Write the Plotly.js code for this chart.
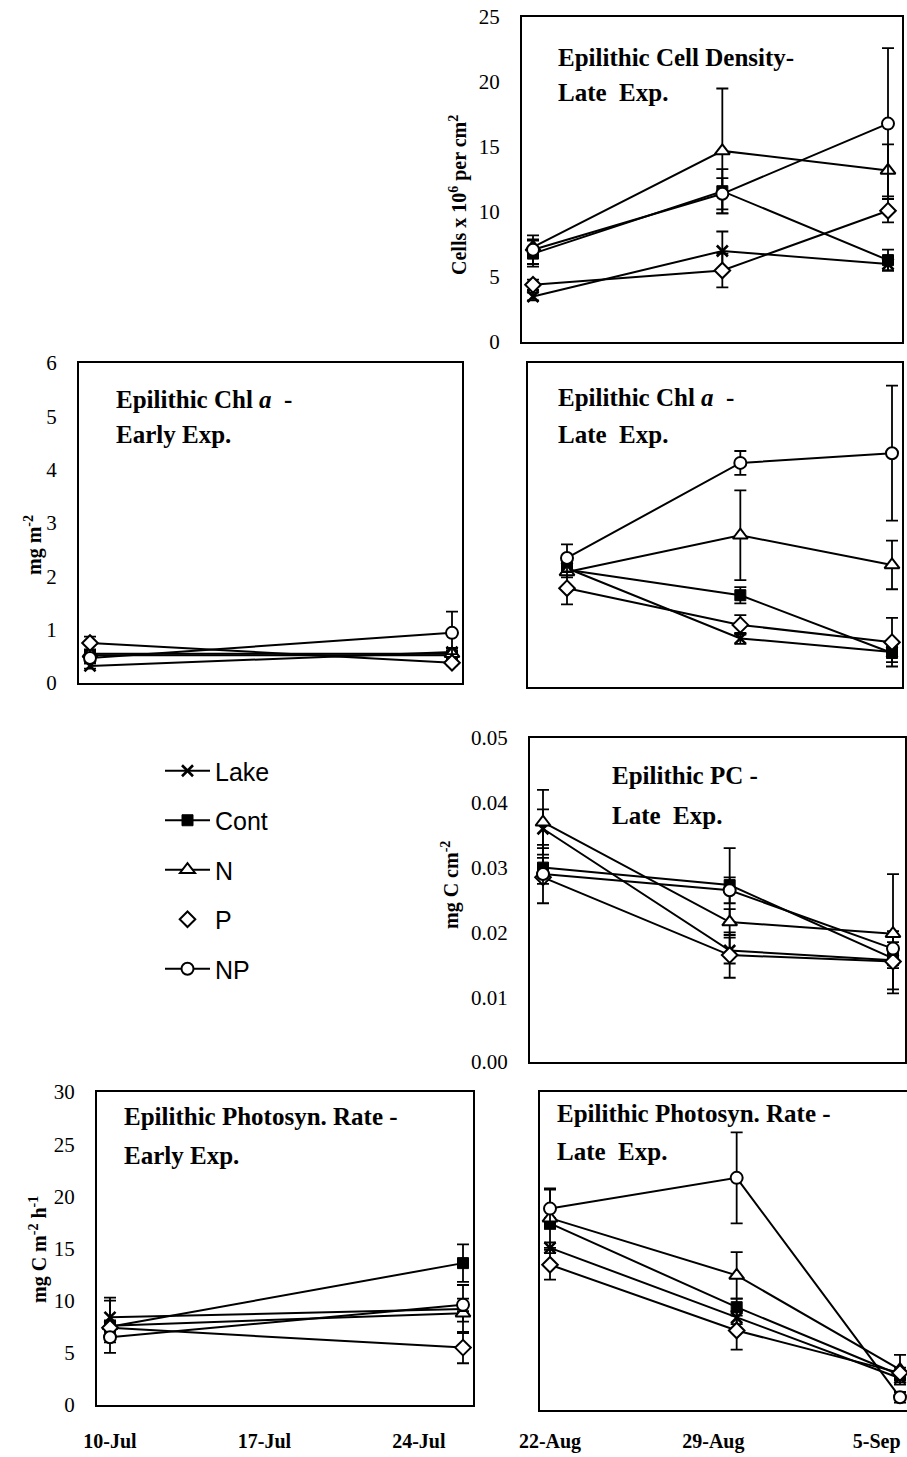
<!DOCTYPE html>
<html>
<head>
<meta charset="utf-8">
<script src="https://cdn.plot.ly/plotly-3.0.1.min.js"></script>
<style>html,body{margin:0;padding:0;background:#fff;}#chart{width:907px;height:1457px;}</style>
</head>
<body>
<div id="chart"></div>
<script>
// ---------------- DATA ----------------
const seriesNames = ['Lake', 'Cont', 'N', 'P', 'NP'];
const lateDates = ['2000-08-22', '2000-08-30', '2000-09-06'];
const earlyDates = ['2000-07-10', '2000-07-26'];
const earlyTickDates = ['2000-07-10', '2000-07-17', '2000-07-24'];
const earlyTickLabels = ['10-Jul', '17-Jul', '24-Jul'];
const lateTickDates = ['2000-08-22', '2000-08-29', '2000-09-05'];
const lateTickLabels = ['22-Aug', '29-Aug', '5-Sep'];
const pcTickVals = [0, 0.01, 0.02, 0.03, 0.04, 0.05];
const pcTickLabels = ['0.00', '0.01', '0.02', '0.03', '0.04', '0.05'];

// Epilithic Cell Density - Late Exp. (cells x 10^6 per cm2); order Lake, Cont, N, P, NP
const cellVals = [[3.5, 7.0, 6.0], [6.8, 11.6, 6.3], [7.3, 14.7, 13.2], [4.4, 5.5, 10.1], [7.1, 11.4, 16.8]];
const cellErr  = [[0.3, 1.5, 0.5], [1.0, 1.7, 0.8], [0.6, 4.8, 2.0], [0.4, 1.3, 0.9], [1.1, 1.2, 5.8]];
// Epilithic Chl a - Early Exp. (mg m-2)
const chlEarlyVals = [[0.32, 0.58], [0.52, 0.52], [0.55, 0.55], [0.75, 0.38], [0.47, 0.94]];
const chlEarlyErr  = [[0.05, 0.08], [0.05, 0.05], [0.05, 0.1], [0.12, 0.05], [0.1, 0.4]];
// Epilithic Chl a - Late Exp. (mg m-2)
const chlLateVals = [[2.2, 0.9, 0.65], [2.17, 1.7, 0.63], [2.13, 2.81, 2.26], [1.83, 1.15, 0.83], [2.39, 4.15, 4.33]];
const chlLateErr  = [[0.1, 0.1, 0.1], [0.1, 0.15, 0.17], [0.1, 0.83, 0.45], [0.3, 0.18, 0.45], [0.25, 0.22, 1.25]];
// Epilithic PC - Late Exp. (mg C cm-2)
const pcVals = [[0.036, 0.0172, 0.0157], [0.030, 0.0273, 0.016], [0.037, 0.0216, 0.0198], [0.0285, 0.0165, 0.0155], [0.029, 0.0265, 0.0175]];
const pcErr  = [[0.003, 0.002, 0.0045], [0.0015, 0.0057, 0.001], [0.005, 0.002, 0.0092], [0.001, 0.0035, 0.001], [0.0045, 0.002, 0.001]];
// Epilithic Photosyn. Rate - Early Exp. (mg C m-2 h-1)
const photoEarlyVals = [[8.4, 9.2], [7.5, 13.6], [7.6, 8.8], [7.4, 5.5], [6.5, 9.6]];
const photoEarlyErr  = [[1.9, 2.3], [2.5, 1.8], [0.5, 0.8], [0.6, 1.5], [0.5, 0.6]];
// Epilithic Photosyn. Rate - Late Exp. (mg C m-2 h-1)
const photoLateVals = [[15.3, 8.7, 3.0], [17.6, 9.7, 3.3], [18.1, 12.7, 3.8], [13.7, 7.5, 3.5], [19.0, 21.9, 1.2]];
const photoLateErr  = [[0.5, 0.6, 0.4], [0.5, 0.8, 0.5], [2.8, 2.2, 1.4], [1.4, 1.8, 0.5], [1.8, 4.3, 0.5]];

// ---------------- LAYOUT HELPERS ----------------
const W = 907, H = 1457;
const fx = p => p / W;
const fy = p => 1 - p / H;
const DAY = 86400000;
function dms(s) { const a = s.split('-').map(Number); return Date.UTC(a[0], a[1] - 1, a[2]); }
function dateRange(L, R, pA, dA, pB, dB) {
  const a = dms(dA), b = dms(dB);
  const ppd = (pB - pA) / ((b - a) / DAY);
  return [a - (pA - L) / ppd * DAY, a + (R - pA) / ppd * DAY];
}

const markerStyles = [
  {symbol: 'x-thin', size: 11, color: 'black', line: {color: 'black', width: 2.6}},
  {symbol: 'square', size: 11, color: 'black', line: {color: 'black', width: 1}},
  {symbol: 'triangle-up', size: 13, color: 'white', line: {color: 'black', width: 2}},
  {symbol: 'diamond', size: 12, color: 'white', line: {color: 'black', width: 2}},
  {symbol: 'circle', size: 12, color: 'white', line: {color: 'black', width: 2}}
];

const panels = [
  {vals: cellVals, err: cellErr, dates: lateDates, L: 522, R: 902, T: 17, B: 342, yr: [0, 25], dtick: 5, showY: true,
   map: [533, lateDates[0], 888, lateDates[2]]},
  {vals: chlEarlyVals, err: chlEarlyErr, dates: earlyDates, L: 79, R: 462, T: 363, B: 683, yr: [0, 6], dtick: 1, showY: true,
   map: [90, earlyDates[0], 452, earlyDates[1]]},
  {vals: chlLateVals, err: chlLateErr, dates: lateDates, L: 528, R: 902, T: 363, B: 687, yr: [0, 6], dtick: 1, showY: false,
   map: [567, lateDates[0], 892, lateDates[2]]},
  {vals: pcVals, err: pcErr, dates: lateDates, L: 530, R: 905, T: 738, B: 1062, yr: [0, 0.05], showY: true, pc: true,
   map: [543, lateDates[0], 893, lateDates[2]]},
  {vals: photoEarlyVals, err: photoEarlyErr, dates: earlyDates, L: 97, R: 473, T: 1092, B: 1405, yr: [0, 30], dtick: 5, showY: true,
   map: [110, earlyDates[0], 463, earlyDates[1]], ticks: [earlyTickDates, earlyTickLabels], standoff: 17},
  {vals: photoLateVals, err: photoLateErr, dates: lateDates, L: 540, R: 907, T: 1092, B: 1410, yr: [0, 30], dtick: 5, showY: false,
   map: [550, lateDates[0], 900, lateDates[2]], ticks: [lateTickDates, lateTickLabels], standoff: 12}
];

const layout = {
  width: W, height: H,
  margin: {l: 0, r: 0, t: 0, b: 0},
  paper_bgcolor: 'white', plot_bgcolor: 'white',
  showlegend: true,
  legend: {
    x: fx(160), y: fy(748), xanchor: 'left', yanchor: 'top',
    font: {family: 'Liberation Sans, Arial, sans-serif', size: 25, color: 'black'},
    bgcolor: 'rgba(0,0,0,0)', tracegroupgap: 14, traceorder: 'grouped', itemwidth: 45
  },
  annotations: []
};

const traces = [];
panels.forEach((p, i) => {
  const n = i + 1;
  const xk = n === 1 ? 'xaxis' : 'xaxis' + n;
  const yk = n === 1 ? 'yaxis' : 'yaxis' + n;
  const xr = n === 1 ? 'x' : 'x' + n;
  const yr = n === 1 ? 'y' : 'y' + n;
  const m = p.map;
  layout[xk] = {
    type: 'date', domain: [fx(p.L), fx(p.R)], range: dateRange(p.L, p.R, m[0], m[1], m[2], m[3]),
    anchor: yr, showline: true, mirror: true, linecolor: 'black', linewidth: 2,
    showgrid: false, zeroline: false, ticks: '', fixedrange: true,
    showticklabels: !!p.ticks,
    tickmode: p.ticks ? 'array' : 'auto',
    tickvals: p.ticks ? p.ticks[0] : undefined,
    ticktext: p.ticks ? p.ticks[1] : undefined,
    ticklabelstandoff: p.standoff || 0,
    tickfont: {family: 'Liberation Serif, Times New Roman, serif', size: 20, color: 'black', weight: 'bold'}
  };
  const ya = {
    domain: [fy(p.B), fy(p.T)], range: p.yr, anchor: xr,
    showline: true, mirror: true, linecolor: 'black', linewidth: 2,
    showgrid: false, zeroline: false, ticks: '', fixedrange: true,
    showticklabels: p.showY, ticklabelstandoff: 16,
    tickfont: {family: 'Liberation Serif, Times New Roman, serif', size: 21, color: 'black'}
  };
  if (p.pc) { ya.tickmode = 'array'; ya.tickvals = pcTickVals; ya.ticktext = pcTickLabels; }
  else { ya.dtick = p.dtick; ya.tick0 = 0; }
  layout[yk] = ya;

  seriesNames.forEach((name, s) => {
    traces.push({
      type: 'scatter', mode: 'lines+markers', name: name, legendgroup: name,
      showlegend: (n === 1 && name !== 'P'),
      x: p.dates, y: p.vals[s], xaxis: xr, yaxis: yr,
      line: {color: 'black', width: 2},
      marker: markerStyles[s],
      error_y: {type: 'data', array: p.err[s], visible: true, color: 'black', thickness: 1.8, width: 6},
      cliponaxis: false, hoverinfo: 'skip'
    });
    if (n === 1 && name === 'P') {
      // legend entry for P shows the marker only, as in the original key
      traces.push({type: 'scatter', mode: 'markers', name: name, legendgroup: name, showlegend: true,
        x: [null], y: [null], xaxis: xr, yaxis: yr, marker: markerStyles[s], hoverinfo: 'skip'});
    }
  });
});

// panel titles
const titleFont = {family: 'Liberation Serif, Times New Roman, serif', size: 25, color: 'black'};
const titles = [
  ['<b>Epilithic Cell Density-</b>', 556, 58], ['<b>Late  Exp.</b>', 556, 92],
  ['<b>Epilithic Chl <i>a</i>  -</b>', 114, 400], ['<b>Early Exp.</b>', 114, 434],
  ['<b>Epilithic Chl <i>a</i>  -</b>', 556, 397], ['<b>Late  Exp.</b>', 556, 435],
  ['<b>Epilithic PC -</b>', 610, 775], ['<b>Late  Exp.</b>', 610, 815],
  ['<b>Epilithic Photosyn. Rate -</b>', 122, 1116], ['<b>Early Exp.</b>', 122, 1155],
  ['<b>Epilithic Photosyn. Rate -</b>', 555, 1113], ['<b>Late  Exp.</b>', 555, 1151]
];
titles.forEach(t => layout.annotations.push({
  text: t[0], xref: 'paper', yref: 'paper', x: fx(t[1]), y: fy(t[2]),
  xanchor: 'left', yanchor: 'middle', showarrow: false, font: titleFont
}));

// y-axis titles
const ytFont = {family: 'Liberation Serif, Times New Roman, serif', size: 20, color: 'black'};
const ytitles = [
  ['<b>Cells x 10<sup>6</sup> per cm<sup>2</sup></b>', 458, 195],
  ['<b>mg m<sup>-2</sup></b>', 34, 545],
  ['<b>mg C cm<sup>-2</sup></b>', 450, 885],
  ['<b>mg C m<sup>-2</sup> h<sup>-1</sup></b>', 38, 1250]
];
ytitles.forEach(t => layout.annotations.push({
  text: t[0], xref: 'paper', yref: 'paper', x: fx(t[1]), y: fy(t[2]),
  xanchor: 'center', yanchor: 'middle', textangle: -90, showarrow: false, font: ytFont
}));

Plotly.newPlot('chart', traces, layout, {staticPlot: true, displayModeBar: false});
</script>
</body>
</html>
